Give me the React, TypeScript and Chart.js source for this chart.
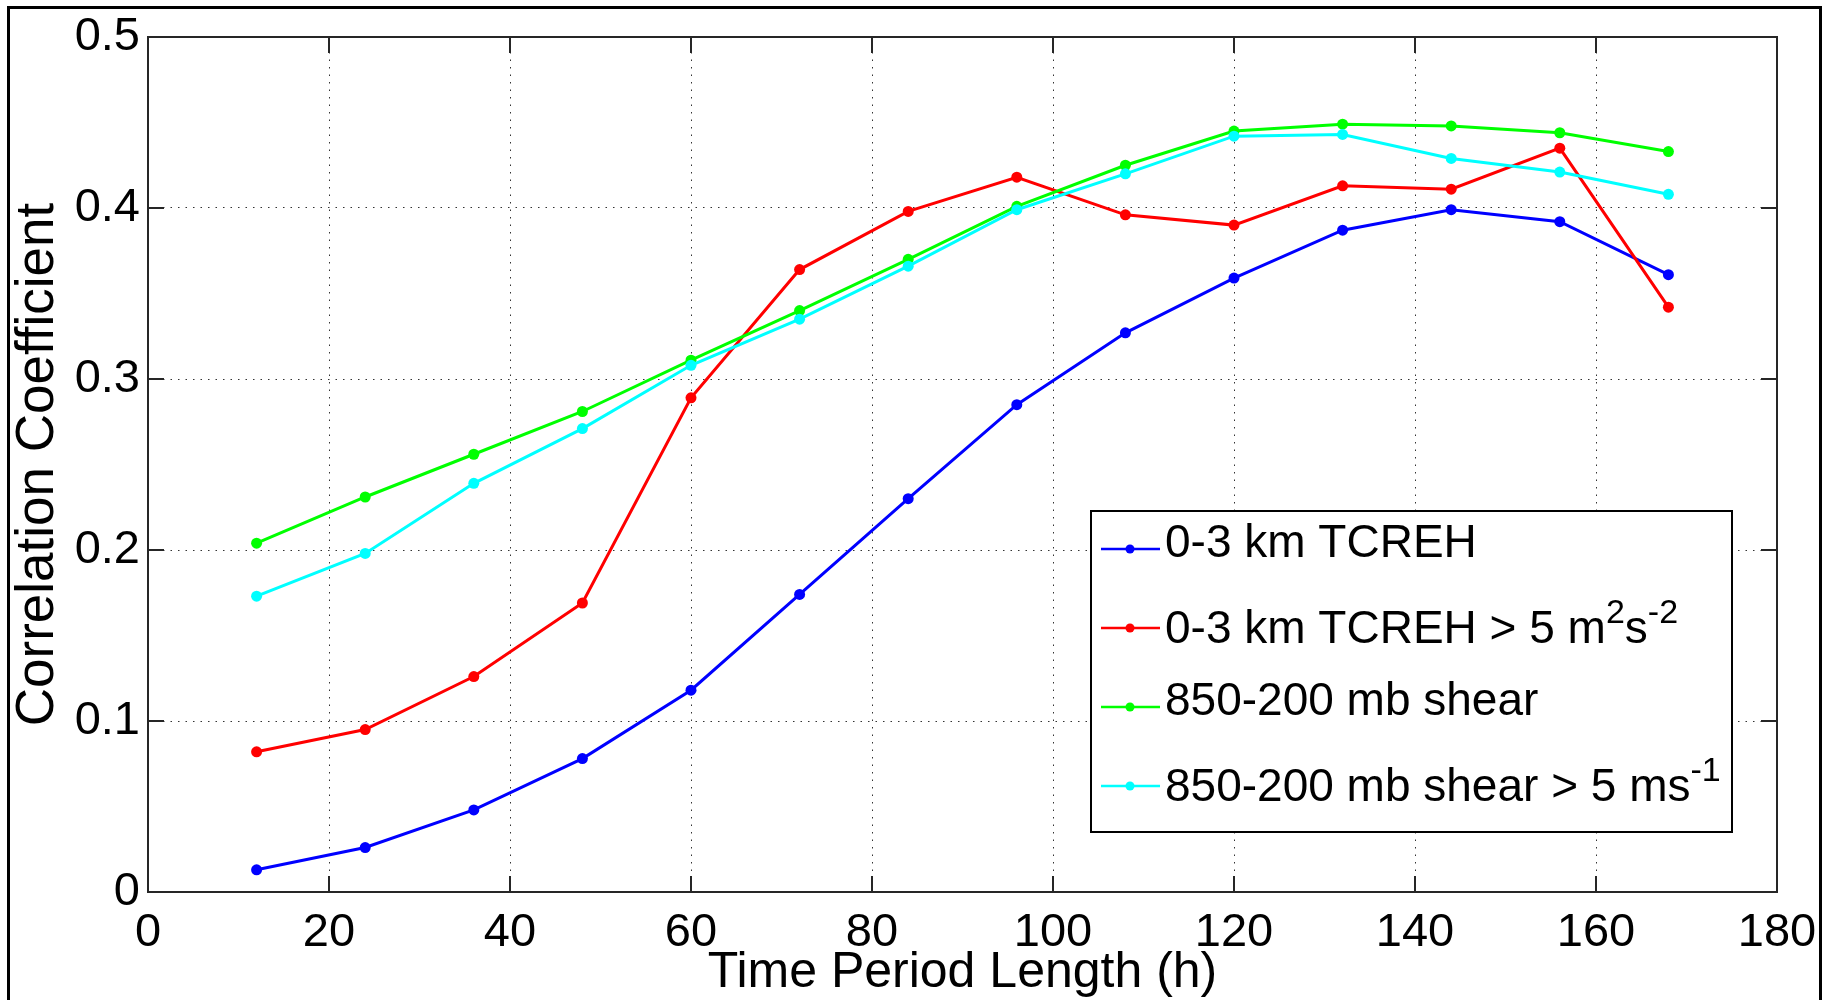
import React, { useEffect, useRef } from "react";
import { Chart, registerables } from "chart.js";

Chart.register(...registerables);

// Time period lengths (h)
const hours = [12, 24, 36, 48, 60, 72, 84, 96, 108, 120, 132, 144, 156, 168];

// Correlation coefficients per predictor
const tcreh = [0.013, 0.026, 0.048, 0.078, 0.118, 0.174, 0.23, 0.285, 0.327, 0.359, 0.387, 0.399, 0.392, 0.361];
const tcrehAbove5 = [0.082, 0.095, 0.126, 0.169, 0.289, 0.364, 0.398, 0.418, 0.396, 0.39, 0.413, 0.411, 0.435, 0.342];
const shear = [0.204, 0.231, 0.256, 0.281, 0.311, 0.34, 0.37, 0.401, 0.425, 0.445, 0.449, 0.448, 0.444, 0.433];
const shearAbove5 = [0.173, 0.198, 0.239, 0.271, 0.308, 0.335, 0.366, 0.399, 0.42, 0.442, 0.443, 0.429, 0.421, 0.408];

// Legend labels; ^{...} marks a superscript
const seriesLabels = [
  "0-3 km TCREH",
  "0-3 km TCREH > 5 m^{2}s^{-2}",
  "850-200 mb shear",
  "850-200 mb shear > 5 ms^{-1}",
];
const seriesColors = ["#0000ff", "#ff0000", "#00ff00", "#00ffff"];

const xTickLabels = ["0", "20", "40", "60", "80", "100", "120", "140", "160", "180"];
const yTickLabels = ["0", "0.1", "0.2", "0.3", "0.4", "0.5"];

const xTitle = "Time Period Length (h)";
const yTitle = "Correlation Coefficient";

const FONT = "'Liberation Sans', Arial, Helvetica, sans-serif";

type Seg = { text: string; sup: boolean };

function parseRich(label: string): Seg[] {
  const parts: Seg[] = [];
  const re = /\^\{([^}]*)\}/g;
  let last = 0;
  let m: RegExpExecArray | null;
  while ((m = re.exec(label))) {
    if (m.index > last) parts.push({ text: label.slice(last, m.index), sup: false });
    parts.push({ text: m[1], sup: true });
    last = re.lastIndex;
  }
  if (last < label.length) parts.push({ text: label.slice(last), sup: false });
  return parts;
}

// Outer figure frame
const figureFrame = {
  id: "figureFrame",
  beforeDraw(chart: any) {
    const { ctx, width, height } = chart;
    ctx.save();
    ctx.fillStyle = "#ffffff";
    ctx.fillRect(0, 0, width, height);
    ctx.strokeStyle = "#000000";
    ctx.lineWidth = 3;
    ctx.strokeRect(1.5, 1.5, width - 3, height + 20);
    ctx.restore();
  },
};

// Axes box with inward tick marks on all four sides
const axesBox = {
  id: "axesBox",
  beforeDatasetsDraw(chart: any) {
    const { ctx, chartArea, scales } = chart;
    const { left, top, right, bottom } = chartArea;
    const len = 16;
    ctx.save();
    ctx.strokeStyle = "#262626";
    ctx.lineWidth = 2;
    ctx.strokeRect(left, top, right - left, bottom - top);
    ctx.beginPath();
    scales.x.ticks.forEach((t: any) => {
      const px = Math.round(scales.x.getPixelForValue(t.value));
      ctx.moveTo(px, bottom);
      ctx.lineTo(px, bottom - len);
      ctx.moveTo(px, top);
      ctx.lineTo(px, top + len);
    });
    scales.y.ticks.forEach((t: any) => {
      const py = Math.round(scales.y.getPixelForValue(t.value));
      ctx.moveTo(left, py);
      ctx.lineTo(left + len, py);
      ctx.moveTo(right, py);
      ctx.lineTo(right - len, py);
    });
    ctx.stroke();
    ctx.restore();
  },
};

// Boxed legend in the lower right of the axes, with superscript support
const boxedLegend = {
  id: "boxedLegend",
  afterDatasetsDraw(chart: any) {
    const { ctx, chartArea } = chart;
    const boxW = 641;
    const boxH = 321;
    const bx = chartArea.right - 45 - boxW;
    const by = chartArea.bottom - 60 - boxH;
    ctx.save();
    ctx.fillStyle = "#ffffff";
    ctx.fillRect(bx, by, boxW, boxH);
    ctx.strokeStyle = "#000000";
    ctx.lineWidth = 2;
    ctx.strokeRect(bx, by, boxW, boxH);

    const mainSize = 46;
    const supSize = 34;
    chart.data.datasets.forEach((ds: any, i: number) => {
      const ly = by + 38 + i * 79;
      ctx.strokeStyle = ds.borderColor;
      ctx.lineWidth = 2.5;
      ctx.beginPath();
      ctx.moveTo(bx + 10, ly);
      ctx.lineTo(bx + 69, ly);
      ctx.stroke();
      ctx.fillStyle = ds.borderColor;
      ctx.beginPath();
      ctx.arc(bx + 39, ly, 4.5, 0, Math.PI * 2);
      ctx.fill();

      const segs = parseRich(ds.label);
      const hasSup = segs.some((s) => s.sup);
      const baseY = ly + (hasSup ? 15 : 8);
      let tx = bx + 74;
      ctx.fillStyle = "#000000";
      ctx.textBaseline = "alphabetic";
      ctx.textAlign = "left";
      segs.forEach((s) => {
        ctx.font = `${s.sup ? supSize : mainSize}px ${FONT}`;
        ctx.fillText(s.text, tx, s.sup ? baseY - 20 : baseY);
        tx += ctx.measureText(s.text).width;
      });
    });
    ctx.restore();
  },
};

const seriesValues = [tcreh, tcrehAbove5, shear, shearAbove5];

export default function App() {
  const canvasRef = useRef<HTMLCanvasElement | null>(null);

  useEffect(() => {
    const canvas = canvasRef.current;
    if (!canvas) return;

    const datasets = seriesValues.map((vals, i) => ({
      label: seriesLabels[i],
      data: hours.map((h, j) => ({ x: h, y: vals[j] })),
      borderColor: seriesColors[i],
      backgroundColor: seriesColors[i],
      borderWidth: 3,
      pointRadius: 5.5,
      pointHoverRadius: 5.5,
      pointBorderWidth: 0,
      tension: 0,
      order: seriesValues.length - i,
    }));

    const chart = new Chart(canvas, {
      type: "line",
      data: { datasets },
      options: {
        animation: false,
        responsive: false,
        devicePixelRatio: 1,
        layout: { padding: { left: 0, top: 31, right: 45, bottom: 0 } },
        plugins: {
          legend: { display: false },
          tooltip: { enabled: false },
        },
        scales: {
          x: {
            type: "linear",
            min: 0,
            max: 180,
            ticks: {
              stepSize: 20,
              padding: 13,
              color: "#000000",
              font: { family: FONT, size: 47, lineHeight: 1.2 },
              maxRotation: 0,
              autoSkip: false,
              callback: (_v: any, idx: number) => xTickLabels[idx],
            },
            grid: {
              color: "#333333",
              lineWidth: 1,
              drawTicks: false,
            },
            border: { display: false, dash: [1.5, 6] },
            title: {
              display: true,
              text: xTitle,
              color: "#000000",
              font: { family: FONT, size: 50, lineHeight: 1 },
              padding: { top: 0, bottom: 2 },
            },
            afterFit: (s: any) => {
              s.height = 108;
              s.paddingLeft = 0;
              s.paddingRight = 0;
            },
          },
          y: {
            type: "linear",
            min: 0,
            max: 0.5,
            ticks: {
              stepSize: 0.1,
              padding: 8,
              color: "#000000",
              font: { family: FONT, size: 47, lineHeight: 1.2 },
              autoSkip: false,
              callback: (_v: any, idx: number) => yTickLabels[idx],
            },
            grid: {
              color: "#333333",
              lineWidth: 1,
              drawTicks: false,
            },
            border: { display: false, dash: [1.5, 6] },
            title: {
              display: true,
              text: yTitle,
              color: "#000000",
              font: { family: FONT, size: 53, lineHeight: 1 },
              padding: { top: 5, bottom: 0 },
            },
            afterFit: (s: any) => {
              s.width = 141;
              s.paddingTop = 0;
              s.paddingBottom = 0;
            },
          },
        },
      },
      plugins: [figureFrame, axesBox, boxedLegend],
    });

    return () => chart.destroy();
  }, []);

  return (
    <div style={{ position: "fixed", left: 7, top: 6, width: 1815, height: 994, overflow: "hidden" }}>
      <canvas ref={canvasRef} width={1815} height={994} style={{ width: 1815, height: 994, display: "block" }} />
    </div>
  );
}
